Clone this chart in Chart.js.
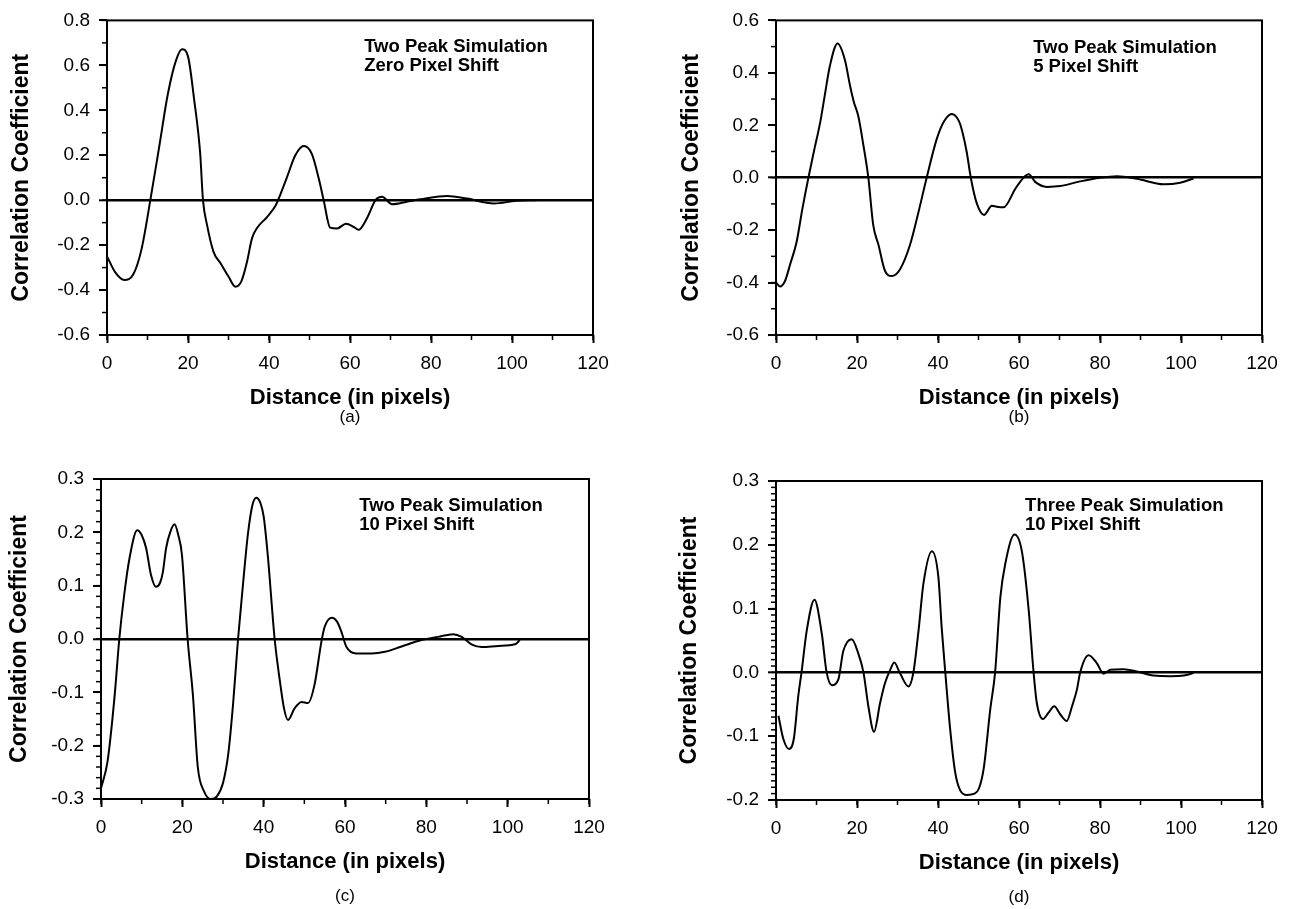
<!DOCTYPE html>
<html>
<head>
<meta charset="utf-8">
<script src="https://cdn.jsdelivr.net/npm/chart.js@4.4.1/dist/chart.umd.min.js"></script>
<style>
html,body{margin:0;padding:0;background:#fff;}
#wrap{position:relative;width:1291px;height:909px;overflow:hidden;background:#fff;}
canvas{position:absolute;}
</style>
</head>
<body>
<div id="wrap">
<canvas id="pa" width="645" height="454" style="left:0px;top:0px;"></canvas>
<canvas id="pb" width="646" height="454" style="left:645px;top:0px;"></canvas>
<canvas id="pc" width="645" height="455" style="left:0px;top:454px;"></canvas>
<canvas id="pd" width="646" height="455" style="left:645px;top:454px;"></canvas>
</div>
<script>
// ---------------- data ----------------
const xTitle = 'Distance (in pixels)';
const yTitle = 'Correlation Coefficient';
const xRange = [0, 120];

// (a) Two Peak Simulation, Zero Pixel Shift
const distA = [0,2,4.3,6.5,8.5,10.7,13,15,17,18.5,20,21.5,23,23.7,24.7,26.3,28,30,31.7,33.2,34.5,35.8,37,39.5,41.6,42.8,44.4,46.5,48.6,50.6,52.3,53.5,55.1,56.8,59,61,62.1,64.2,66.3,67.9,70.4,74,77.4,84,88.9,95.5,101,106];
const corrA = [-0.25,-0.32,-0.355,-0.33,-0.22,0,0.25,0.47,0.62,0.672,0.64,0.45,0.21,0,-0.11,-0.23,-0.28,-0.34,-0.385,-0.36,-0.28,-0.17,-0.125,-0.075,-0.025,0.025,0.1,0.2,0.241,0.205,0.095,0,-0.122,-0.126,-0.105,-0.12,-0.132,-0.08,0,0.015,-0.018,-0.007,0.004,0.019,0.007,-0.015,-0.003,0];
const yRangeA = [-0.6, 0.8];
const noteA = ['Two Peak Simulation', 'Zero Pixel Shift'];
const labelA = '(a)';

// (b) Two Peak Simulation, 5 Pixel Shift
const distB = [0,1,2.2,3.5,5.1,6.5,8,9.5,10.9,12,13.3,15.2,17,18.3,19.2,20.3,21.6,22.8,24,25.3,26.9,28.6,30.6,33.1,35.2,37.2,39.7,41.5,43.4,45.2,46.1,47.1,48.1,49.6,51.4,53.3,54.5,56.2,59.1,61.1,62.4,64,66.9,70.2,75.1,80,84.2,89.1,95.7,99.8,103.1];
const corrB = [-0.4,-0.415,-0.395,-0.33,-0.244,-0.12,0,0.11,0.21,0.31,0.426,0.512,0.45,0.35,0.29,0.236,0.122,0,-0.18,-0.256,-0.355,-0.375,-0.35,-0.256,-0.13,0,0.148,0.215,0.243,0.215,0.17,0.097,0,-0.099,-0.142,-0.107,-0.111,-0.113,-0.042,0,0.013,-0.016,-0.035,-0.032,-0.014,0,0.006,-0.004,-0.025,-0.019,-0.003];
const yRangeB = [-0.6, 0.6];
const noteB = ['Two Peak Simulation', '5 Pixel Shift'];
const labelB = '(b)';

// (c) Two Peak Simulation, 10 Pixel Shift
const distC = [0,1.6,3.3,4.5,5.7,7,8.9,10,11.1,12.3,13.5,14.5,15.2,16,17,18.1,19,19.9,21.3,22.6,23.8,25.3,27,28.5,30,31.3,32.5,33.7,34.9,36.1,37.2,38.2,39.2,40,41,42.7,43.9,45,46,47.6,49.3,50.9,52.5,54.2,55,56.8,58,59.1,60.3,62.8,66.5,69.8,73.9,78.8,82.9,86.6,88.7,91.1,93.6,97.7,101.8,103];
const corrC = [-0.28,-0.23,-0.111,0,0.0825,0.151,0.204,0.195,0.17,0.12,0.098,0.105,0.125,0.17,0.2,0.215,0.195,0.158,0,-0.105,-0.24,-0.285,-0.3,-0.295,-0.27,-0.215,-0.12,0,0.101,0.195,0.25,0.265,0.255,0.23,0.158,0,-0.074,-0.13,-0.152,-0.13,-0.118,-0.12,-0.086,-0.005,0.023,0.04,0.033,0.014,-0.014,-0.027,-0.027,-0.024,-0.014,-0.002,0.004,0.009,0.004,-0.01,-0.015,-0.013,-0.01,-0.002];
const yRangeC = [-0.3, 0.3];
const noteC = ['Two Peak Simulation', '10 Pixel Shift'];
const labelC = '(c)';

// (d) Three Peak Simulation, 10 Pixel Shift
const distD = [0.6,1.8,3.2,4.4,5.5,6.3,7.6,9.5,11.3,12.5,13.8,15.4,16.6,18.7,20.3,21.6,22.8,24.2,25.7,26.9,28.2,29.2,30.6,32.7,33.9,35.2,36.4,38.5,40.1,40.9,41.8,43,44.2,45.5,47.2,49,50.1,51.3,52.9,54.1,55.4,56.6,58.9,60.7,62.4,63.6,64.4,65.9,67.3,68.7,70.2,71.8,73.1,74.3,75.1,77.2,79.2,80.9,82.5,85.8,89.1,93.2,97.4,100.7,103.1];
const corrD = [-0.068,-0.104,-0.12,-0.104,-0.037,0,0.066,0.114,0.061,0,-0.02,-0.011,0.033,0.052,0.03,0,-0.053,-0.093,-0.048,-0.017,0.004,0.0155,-0.001,-0.022,-0.001,0.066,0.139,0.19,0.149,0.071,0,-0.089,-0.155,-0.185,-0.192,-0.19,-0.182,-0.15,-0.058,0,0.118,0.17,0.216,0.19,0.097,0,-0.048,-0.073,-0.063,-0.053,-0.066,-0.076,-0.053,-0.027,0,0.027,0.0145,-0.002,0.004,0.005,0.0015,-0.005,-0.006,-0.005,-0.001];
const yRangeD = [-0.2, 0.3];
const noteD = ['Three Peak Simulation', '10 Pixel Shift'];
const labelD = '(d)';

// ---------------- drawing ----------------
const FONT = "'Liberation Sans', Arial, Helvetica, sans-serif";

const decor = {
  id: 'decor',
  afterDraw(chart, args, o) {
    const {ctx, chartArea: a, scales: {x, y}} = chart;
    ctx.save();
    ctx.strokeStyle = '#000';
    ctx.lineWidth = 2;
    ctx.strokeRect(a.left, a.top, a.right - a.left, a.bottom - a.top);
    ctx.lineWidth = 1.5;
    let n = Math.round((y.max - y.min) / o.yMinor);
    for (let i = 0; i <= n; i++) {
      const py = y.getPixelForValue(y.min + i * o.yMinor);
      ctx.beginPath(); ctx.moveTo(a.left - 5, py); ctx.lineTo(a.left, py); ctx.stroke();
    }
    n = Math.round((x.max - x.min) / o.xMinor);
    for (let i = 0; i <= n; i++) {
      const px = x.getPixelForValue(x.min + i * o.xMinor);
      ctx.beginPath(); ctx.moveTo(px, a.bottom); ctx.lineTo(px, a.bottom + 5); ctx.stroke();
    }
    ctx.fillStyle = '#000';
    ctx.font = 'bold 18.5px ' + FONT;
    ctx.textAlign = 'left';
    ctx.textBaseline = 'middle';
    const tx = x.getPixelForValue(o.noteX);
    o.note.forEach((s, i) => ctx.fillText(s, tx, a.top + o.noteDy + i * 19));
    ctx.font = '17px ' + FONT;
    ctx.textAlign = 'center';
    ctx.fillText(o.label, (a.left + a.right) / 2, a.bottom + o.labelDy);
    ctx.restore();
  }
};

function makePanel(id, xs, ys, yRange, yStep, yMinor, note, label, g) {
  const canvas = document.getElementById(id);
  const W = canvas.width, H = canvas.height;
  const XAXH = 80;
  const pts = xs.map((v, i) => ({x: v, y: ys[i]}));
  new Chart(canvas, {
    type: 'line',
    data: {datasets: [{
      data: pts,
      borderColor: '#000',
      borderWidth: 2,
      pointRadius: 0,
      fill: false,
      cubicInterpolationMode: 'monotone'
    }]},
    options: {
      responsive: false,
      animation: false,
      events: [],
      layout: {padding: {left: 0, top: g.T, right: W - g.R, bottom: H - g.B - XAXH}},
      plugins: {
        legend: {display: false},
        tooltip: {enabled: false},
        decor: {yMinor: yMinor, xMinor: 10, note: note, noteX: g.noteX, noteDy: g.noteDy, label: label, labelDy: g.labelDy}
      },
      scales: {
        x: {
          type: 'linear', position: 'bottom', min: xRange[0], max: xRange[1],
          afterFit: s => { s.height = XAXH; },
          border: {display: false},
          grid: {drawOnChartArea: false, drawTicks: true, tickLength: 8, tickColor: '#000', tickWidth: 2},
          ticks: {stepSize: 20, color: '#000', padding: 9.6, maxRotation: 0, autoSkip: false,
                  font: {family: FONT, size: 19}, callback: v => String(Math.round(v))},
          title: {display: true, text: xTitle, color: '#000',
                  font: {family: FONT, size: 22, weight: 'bold'}, padding: {top: 0, bottom: XAXH - 63 - 13.2}}
        },
        y: {
          type: 'linear', position: 'left', min: yRange[0], max: yRange[1],
          afterFit: s => { s.width = g.L; },
          border: {display: false},
          grid: {
            drawOnChartArea: true, drawTicks: true, tickLength: 8, tickColor: '#000', tickWidth: 2,
            color: c => (c.tick && Math.abs(c.tick.value) < 1e-9) ? '#000' : 'rgba(0,0,0,0)',
            lineWidth: c => (c.tick && Math.abs(c.tick.value) < 1e-9) ? 2.6 : 0
          },
          ticks: {stepSize: yStep, color: '#000', padding: 9, autoSkip: false,
                  font: {family: FONT, size: 19}, callback: v => Number(v).toFixed(1)},
          title: {display: true, text: yTitle, color: '#000',
                  font: {family: FONT, size: 23, weight: 'bold'}, padding: {top: g.yTitleX - 13.8, bottom: 0}}
        }
      }
    },
    plugins: [decor]
  });
}

makePanel('pa', distA, corrA, yRangeA, 0.2, 0.1, noteA, labelA,
  {L: 107, R: 593, T: 16, B: 335, yTitleX: 22, noteX: 63.5, noteDy: 27, labelDy: 82});
makePanel('pb', distB, corrB, yRangeB, 0.2, 0.1, noteB, labelB,
  {L: 131, R: 617, T: 17, B: 335, yTitleX: 47, noteX: 63.5, noteDy: 28, labelDy: 82});
makePanel('pc', distC, corrC, yRangeC, 0.1, 0.02, noteC, labelC,
  {L: 101, R: 589, T: 25, B: 345, yTitleX: 20, noteX: 63.5, noteDy: 27, labelDy: 97});
makePanel('pd', distD, corrD, yRangeD, 0.1, 0.01, noteD, labelD,
  {L: 131, R: 617, T: 27, B: 346, yTitleX: 45, noteX: 61.5, noteDy: 25, labelDy: 97});
</script>
</body>
</html>
